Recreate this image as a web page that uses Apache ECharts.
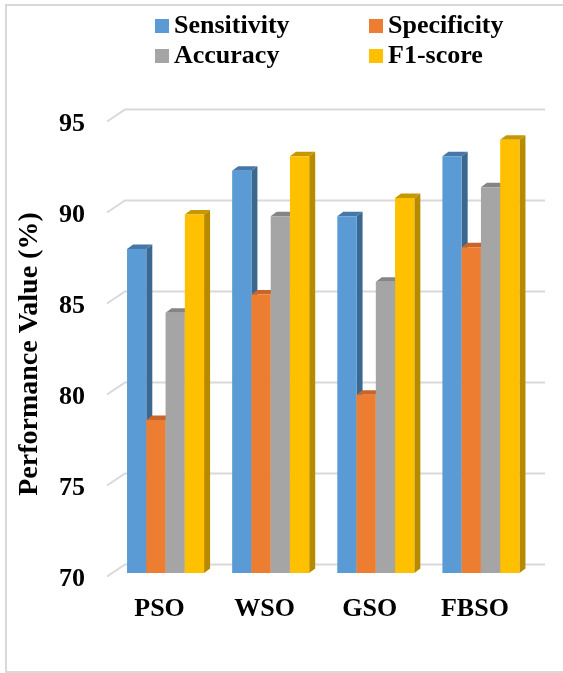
<!DOCTYPE html>
<html>
<head>
<meta charset="utf-8">
<title>Performance Value</title>
<script src="https://cdn.jsdelivr.net/npm/echarts@6/dist/echarts.min.js"></script>
<style>
  html, body { margin: 0; padding: 0; background: #fff; }
  #chart { width: 563px; height: 673px; }
</style>
</head>
<body>
<div id="chart"></div>
<script>
// Optimisers compared and their scores (%)
const categories = ['PSO', 'WSO', 'GSO', 'FBSO'];
const sensitivity = [87.8, 92.1, 89.6, 92.9];
const specificity = [78.4, 85.3, 79.8, 87.9];
const accuracy = [84.3, 89.6, 86.0, 91.2];
const f1Score = [89.7, 92.9, 90.6, 93.8];
const yTicks = [70, 75, 80, 85, 90, 95];

const FONT = "'Liberation Serif', 'Times New Roman', serif";
const Y_MIN = 70;

// front / side / top face colours of each bar family
const palettes = [
  { front: '#5b9bd5', side: '#3b6891', top: '#4677a6' },
  { front: '#ed7d31', side: '#b45a22', top: '#c9642a' },
  { front: '#a5a5a5', side: '#7a7a7a', top: '#858585' },
  { front: '#ffc000', side: '#b78a00', top: '#c79700' }
];

// depth offset of the extruded bars
const DX = 6, DY = 4.5;

function makeBarRenderer(seriesIdx, pal) {
  return function (params, api) {
    const cat = api.value(0);
    const val = api.value(1);
    const topPt = api.coord([cat, val]);
    const basePt = api.coord([cat, Y_MIN]);
    const band = api.size([1, 0])[0];
    const groupW = band * 0.733;
    const bw = groupW / 4;
    const x0 = topPt[0] - groupW / 2 + seriesIdx * bw;
    const x1 = x0 + bw;
    const yt = topPt[1];
    const yb = basePt[1];
    return {
      type: 'group',
      children: [
        {
          type: 'polygon',
          shape: { points: [[x1, yb], [x1, yt], [x1 + DX, yt - DY], [x1 + DX, yb - DY]] },
          style: { fill: pal.side }
        },
        {
          type: 'polygon',
          shape: { points: [[x0, yt], [x1, yt], [x1 + DX, yt - DY], [x0 + DX, yt - DY]] },
          style: { fill: pal.top }
        },
        {
          type: 'rect',
          shape: { x: x0, y: yt, width: bw, height: yb - yt },
          style: { fill: pal.front }
        }
      ]
    };
  };
}

// back-wall gridlines with the short diagonal on the side wall, plus the tick value
function gridRenderer(params, api) {
  const v = api.value(0);
  const p = api.coord([0, v]);
  const cs = params.coordSys;
  const y = p[1];
  const fx = cs.x - 6, fy = y + 3.5;
  const bx = cs.x + 12, by = y - 8.5;
  const ex = 545;
  return {
    type: 'group',
    children: [
      {
        type: 'polyline',
        shape: { points: [[fx, fy], [bx, by], [ex, by]] },
        style: { stroke: '#d9d9d9', lineWidth: 2, fill: null }
      },
      {
        type: 'text',
        x: cs.x - 28, y: y + 6,
        style: {
          text: String(v),
          fontFamily: FONT, fontWeight: 'bold', fontSize: 26, fill: '#000',
          align: 'right', verticalAlign: 'middle'
        }
      }
    ]
  };
}

const seriesDefs = [
  ['Sensitivity', sensitivity],
  ['Specificity', specificity],
  ['Accuracy', accuracy],
  ['F1-score', f1Score]
];

const chart = echarts.init(document.getElementById('chart'), null, { renderer: 'canvas' });

const legendText = { fontFamily: FONT, fontWeight: 'bold', fontSize: 26, color: '#000' };

chart.setOption({
  animation: false,
  backgroundColor: '#fff',
  grid: { left: 113, right: 29.5, top: 118, bottom: 100 },
  legend: [
    {
      data: ['Sensitivity', 'Accuracy'],
      orient: 'vertical', left: 155, top: 13, padding: 0,
      itemWidth: 14, itemHeight: 14, itemGap: 4, icon: 'rect',
      textStyle: legendText
    },
    {
      data: ['Specificity', 'F1-score'],
      orient: 'vertical', left: 369, top: 13, padding: 0,
      itemWidth: 14, itemHeight: 14, itemGap: 4, icon: 'rect',
      textStyle: legendText
    }
  ],
  xAxis: {
    type: 'category',
    data: categories,
    axisLine: { show: false },
    axisTick: { show: false },
    axisLabel: {
      margin: 23,
      padding: [0, 12, 0, 0],
      fontFamily: FONT, fontWeight: 'bold', fontSize: 26, color: '#000'
    }
  },
  yAxis: {
    type: 'value',
    min: 70, max: 95, interval: 5,
    axisLine: { show: false },
    axisTick: { show: false },
    splitLine: { show: false },
    axisLabel: { show: false }
  },
  graphic: [
    {
      type: 'rect',
      shape: { x: 6, y: 5, width: 620, height: 667 },
      style: { fill: null, stroke: '#d9d9d9', lineWidth: 2 },
      z: -10
    },
    {
      type: 'text',
      x: 30, y: 354,
      rotation: Math.PI / 2,
      style: {
        text: 'Performance Value (%)',
        fontFamily: FONT, fontWeight: 'bold', fontSize: 28, fill: '#000',
        textAlign: 'center', textVerticalAlign: 'middle'
      }
    }
  ],
  series: [
    {
      type: 'custom',
      name: 'grid',
      silent: true,
      z: 0,
      renderItem: gridRenderer,
      data: yTicks.map(v => [v]),
      encode: { y: 0 }
    }
  ].concat(seriesDefs.map(([name, values], i) => ({
    type: 'custom',
    name: name,
    z: 2 + i,
    itemStyle: { color: palettes[i].front },
    renderItem: makeBarRenderer(i, palettes[i]),
    data: values.map((v, j) => [j, v]),
    encode: { x: 0, y: 1 }
  })))
});
</script>
</body>
</html>
